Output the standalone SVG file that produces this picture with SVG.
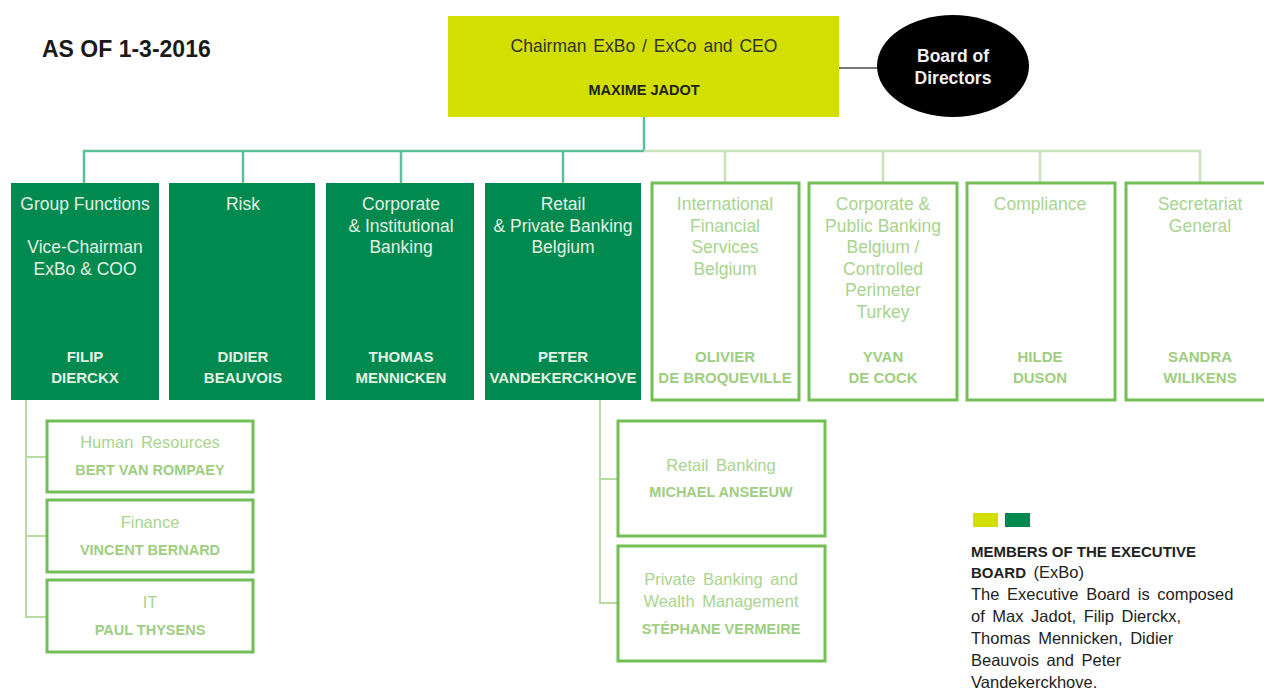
<svg xmlns="http://www.w3.org/2000/svg" width="1264" height="700" viewBox="0 0 1264 700">
<style>
text{font-family:"Liberation Sans",Arial,sans-serif;text-anchor:middle}
.dark rect{fill:#008a50}
.dark text{fill:#e3f1e3;font-size:17.5px}
.dark .nm{font-weight:bold;font-size:15px}
.lite rect{fill:#fff;stroke:#72c055;stroke-width:3}
.lite text{fill:#a9d48f;font-size:17.5px}
.lite .nm{font-weight:bold;font-size:15px;fill:#9fce82}
.sub text{font-size:16.5px;word-spacing:3px}
.sub .nm{font-size:14.5px;word-spacing:0}
.c1{stroke:#5dbf98;stroke-width:2.5;fill:none}
.c2{stroke:#c6e2b6;stroke-width:2.5;fill:none}
.c3{stroke:#b8dba2;stroke-width:2;fill:none}
.leg{text-anchor:start;font-size:16.5px;fill:#222;word-spacing:3px}
.legb{text-anchor:start;font-size:15px;fill:#222;font-weight:bold}
</style>
<rect width="1264" height="700" fill="#fff"/>
<text x="42" y="57" style="font-size:23px;font-weight:bold;text-anchor:start;fill:#1a1a1a">AS OF 1-3-2016</text>

<g id="connectors">
<line x1="839" y1="68" x2="878" y2="68" stroke="#777" stroke-width="2"/>
<polyline class="c1" points="644,117 644,151"/>
<polyline class="c1" points="644,151 84,151 84,183"/>
<line class="c1" x1="243" y1="151" x2="243" y2="183"/>
<line class="c1" x1="401" y1="151" x2="401" y2="183"/>
<line class="c1" x1="563" y1="151" x2="563" y2="183"/>
<polyline class="c2" points="644,151 1200,151 1200,183"/>
<line class="c2" x1="725" y1="151" x2="725" y2="183"/>
<line class="c2" x1="883" y1="151" x2="883" y2="183"/>
<line class="c2" x1="1040" y1="151" x2="1040" y2="183"/>
<polyline class="c3" points="26,400 26,617 47,617"/>
<line class="c3" x1="26" y1="457" x2="47" y2="457"/>
<line class="c3" x1="26" y1="536" x2="47" y2="536"/>
<polyline class="c3" points="600,400 600,603 617,603"/>
<line class="c3" x1="600" y1="479" x2="617" y2="479"/>
</g>

<g id="ceo">
<rect x="448" y="16" width="391" height="101" fill="#d3df00"/>
<text x="644" y="52" style="font-size:17.5px;word-spacing:2px;fill:#333">Chairman ExBo / ExCo and CEO</text>
<text x="644" y="95" style="font-size:14.5px;font-weight:bold;fill:#222">MAXIME JADOT</text>
</g>

<g id="board">
<ellipse cx="953" cy="66" rx="76" ry="51" fill="#000"/>
<text x="953" y="62" style="font-size:17.5px;font-weight:bold;fill:#f0f0f0">Board of</text>
<text x="953" y="84" style="font-size:17.5px;font-weight:bold;fill:#f0f0f0">Directors</text>
</g>

<g id="group-functions" class="dark">
<rect x="11" y="183" width="148" height="217"/>
<text x="85" y="210">Group Functions</text>
<text x="85" y="253">Vice-Chairman</text>
<text x="85" y="275">ExBo &amp; COO</text>
<text class="nm" x="85" y="362">FILIP</text>
<text class="nm" x="85" y="383">DIERCKX</text>
</g>

<g id="risk" class="dark">
<rect x="169" y="183" width="146" height="217"/>
<text x="243" y="210">Risk</text>
<text class="nm" x="243" y="362">DIDIER</text>
<text class="nm" x="243" y="383">BEAUVOIS</text>
</g>

<g id="cib" class="dark">
<rect x="326" y="183" width="148" height="217"/>
<text x="401" y="210">Corporate</text>
<text x="401" y="232">&amp; Institutional</text>
<text x="401" y="253">Banking</text>
<text class="nm" x="401" y="362">THOMAS</text>
<text class="nm" x="401" y="383">MENNICKEN</text>
</g>

<g id="retail-private" class="dark">
<rect x="485" y="183" width="156" height="217"/>
<text x="563" y="210">Retail</text>
<text x="563" y="232">&amp; Private Banking</text>
<text x="563" y="253">Belgium</text>
<text class="nm" x="563" y="362">PETER</text>
<text class="nm" x="563" y="383">VANDEKERCKHOVE</text>
</g>

<g id="ifs" class="lite">
<rect x="652" y="183" width="147" height="217"/>
<text x="725" y="210">International</text>
<text x="725" y="232">Financial</text>
<text x="725" y="253">Services</text>
<text x="725" y="275">Belgium</text>
<text class="nm" x="725" y="362">OLIVIER</text>
<text class="nm" x="725" y="383">DE BROQUEVILLE</text>
</g>

<g id="cpb" class="lite">
<rect x="809" y="183" width="148" height="217"/>
<text x="883" y="210">Corporate &amp;</text>
<text x="883" y="232">Public Banking</text>
<text x="883" y="253">Belgium /</text>
<text x="883" y="275">Controlled</text>
<text x="883" y="296">Perimeter</text>
<text x="883" y="318">Turkey</text>
<text class="nm" x="883" y="362">YVAN</text>
<text class="nm" x="883" y="383">DE COCK</text>
</g>

<g id="compliance" class="lite">
<rect x="967" y="183" width="148" height="217"/>
<text x="1040" y="210">Compliance</text>
<text class="nm" x="1040" y="362">HILDE</text>
<text class="nm" x="1040" y="383">DUSON</text>
</g>

<g id="secretariat" class="lite">
<rect x="1126" y="183" width="148" height="217"/>
<text x="1200" y="210">Secretariat</text>
<text x="1200" y="232">General</text>
<text class="nm" x="1200" y="362">SANDRA</text>
<text class="nm" x="1200" y="383">WILIKENS</text>
</g>

<g id="hr" class="lite sub">
<rect x="47" y="421" width="206" height="71"/>
<text x="150" y="448">Human Resources</text>
<text class="nm" x="150" y="475">BERT VAN ROMPAEY</text>
</g>
<g id="finance" class="lite sub">
<rect x="47" y="500" width="206" height="72"/>
<text x="150" y="528">Finance</text>
<text class="nm" x="150" y="555">VINCENT BERNARD</text>
</g>
<g id="it" class="lite sub">
<rect x="47" y="580" width="206" height="72"/>
<text x="150" y="608">IT</text>
<text class="nm" x="150" y="635">PAUL THYSENS</text>
</g>

<g id="retail-banking" class="lite sub">
<rect x="618" y="421" width="207" height="115"/>
<text x="721" y="471">Retail Banking</text>
<text class="nm" x="721" y="497">MICHAEL ANSEEUW</text>
</g>
<g id="private-banking" class="lite sub">
<rect x="618" y="546" width="207" height="115"/>
<text x="721" y="585">Private Banking and</text>
<text x="721" y="607">Wealth Management</text>
<text class="nm" x="721" y="634">STÉPHANE VERMEIRE</text>
</g>

<g id="legend">
<rect x="973" y="513" width="25" height="14" fill="#d3df00"/>
<rect x="1005" y="513" width="25" height="14" fill="#008a50"/>
<text class="legb" x="971" y="557">MEMBERS OF THE EXECUTIVE</text>
<text class="leg" x="971" y="578"><tspan font-weight="bold" font-size="15" style="word-spacing:0">BOARD</tspan> (ExBo)</text>
<text class="leg" x="971" y="600">The Executive Board is composed</text>
<text class="leg" x="971" y="622">of Max Jadot, Filip Dierckx,</text>
<text class="leg" x="971" y="644">Thomas Mennicken, Didier</text>
<text class="leg" x="971" y="666">Beauvois and Peter</text>
<text class="leg" x="971" y="688">Vandekerckhove.</text>
</g>
</svg>
